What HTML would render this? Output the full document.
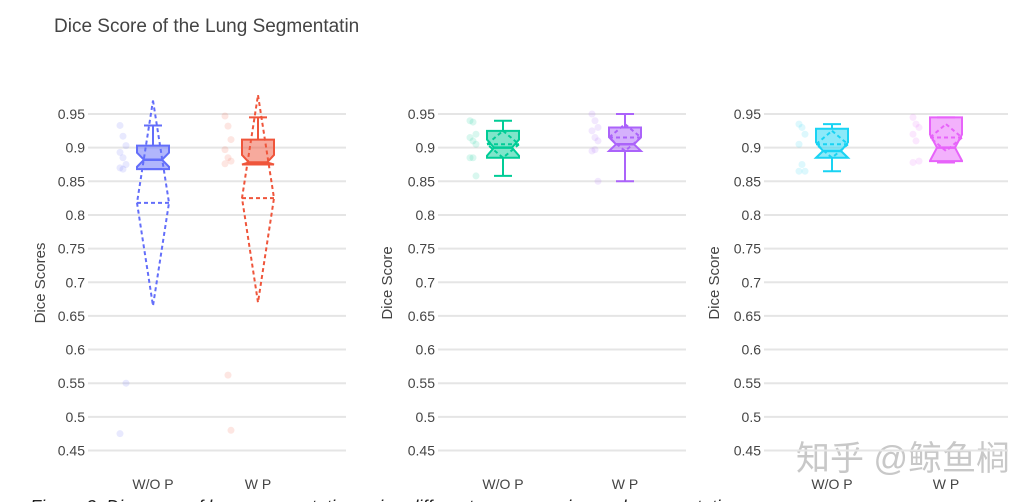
<!DOCTYPE html>
<html><head><meta charset="utf-8">
<style>
html,body{margin:0;padding:0;background:#fff;width:1030px;height:502px;overflow:hidden}
svg{display:block}
text{font-family:"Liberation Sans","Noto Sans CJK SC",sans-serif}
</style></head>
<body>
<svg id="c" width="1030" height="502">
<text x="54" y="32" font-size="19" fill="#444">Dice Score of the Lung Segmentatin</text>
<text x="1010" y="470" text-anchor="end" font-size="34" fill="#c8c8c8" font-family="'Noto Sans CJK SC',sans-serif">知乎 @鲸鱼榈</text>
<text x="30" y="513" font-size="18" font-style="italic" fill="#222" font-family="'Liberation Serif',serif">Figure 3: Diagrams of lung segmentation using different preprocessing and augmentation</text>
</svg>
<script>
const yTicks=[0.95,0.9,0.85,0.8,0.75,0.7,0.65,0.6,0.55,0.5,0.45];
const yTickLabels=["0.95","0.9","0.85","0.8","0.75","0.7","0.65","0.6","0.55","0.5","0.45"];
const categories=["W/O P","W P"];
const axisTitles=["Dice Scores","Dice Score","Dice Score"];
// per series: [lowerWhisker, q1, median, q3, upperWhisker]
const boxStats=[[0.868,0.868,0.882,0.903,0.933],[0.875,0.875,0.878,0.912,0.945],
 [0.858,0.885,0.9,0.925,0.94],[0.85,0.895,0.905,0.93,0.95],
 [0.865,0.885,0.895,0.928,0.935],[0.878,0.88,0.9,0.945,0.945]];
// [mean, mean+sd, mean-sd]
const meanSd=[[0.818,0.97,0.665],[0.825,0.978,0.67],[0.905,0.925,0.885],[0.915,0.935,0.895],[0.905,0.925,0.885],[0.915,0.935,0.895]];
const points0=[0.933,0.917,0.903,0.893,0.885,0.875,0.87,0.868,0.55,0.475];
const points1=[0.947,0.932,0.912,0.897,0.885,0.88,0.876,0.562,0.48];
const points2=[0.94,0.938,0.92,0.915,0.91,0.905,0.885,0.885,0.858];
const points3=[0.95,0.94,0.93,0.925,0.915,0.91,0.895,0.897,0.85];
const points4=[0.935,0.93,0.92,0.905,0.875,0.865,0.865];
const points5=[0.945,0.935,0.93,0.92,0.91,0.88,0.878];
const allPoints=[points0,points1,points2,points3,points4,points5];
const colors=["#636efa","#ef553b","#00cc96","#ab63fa","#19d3f3","#e763fa"];
const panels=[{x0:88,x1:346,cx:[153,258],title:40},{x0:438,x1:686,cx:[503,625],title:387},{x0:764,x1:1008,cx:[832,946],title:714}];
const svg=document.getElementById('c');
const NS="http://www.w3.org/2000/svg";
function y(v){return 114+(0.95-v)*673;}
function mk(t,a,p){const e=document.createElementNS(NS,t);for(const k in a)e.setAttribute(k,a[k]);(p||svg).appendChild(e);return e;}
panels.forEach((P,pi)=>{
  const g=mk('g',{});
  
  
  yTicks.forEach((t,i)=>{
    const l=mk('line',{x1:P.x0,x2:P.x1,y1:y(t),y2:y(t),stroke:'#e5e5e5','stroke-width':2},g);
    
    
    const tx=mk('text',{x:P.x0-3,y:y(t)+5,'text-anchor':'end','font-size':14,fill:'#444'},g);
    tx.textContent=yTickLabels[i];
    
    
  });
  const at=mk('text',{x:0,y:0,transform:`translate(${P.title+5},${283}) rotate(-90)`,'text-anchor':'middle','font-size':15,fill:'#444'},g);
  at.textContent=axisTitles[pi];
  
  
  categories.forEach((c,ci)=>{
    const cx=P.cx[ci];
    const tk=mk('text',{x:cx,y:489,'text-anchor':'middle','font-size':14,fill:'#444'},g);
    tk.textContent=c;
    
    
    const si=pi*2+ci, col=colors[si], s=boxStats[si], m=meanSd[si];
    const bg=mk('g',{},g);
    
    
    allPoints[si].forEach((v,k)=>{
      const pt=mk('circle',{cx:cx-33+(k%3)*3,cy:y(v),r:3.5,fill:col,'fill-opacity':0.15},bg);
      
      
    });
    const w=16,nw=9,n=(s[3]-s[1])*0.3;
    const top=y(s[3]),bot=y(s[1]),med=y(s[2]),nt=y(Math.min(s[3],s[2]+n)),nb=y(Math.max(s[1],s[2]-n));
    const box=mk('path',{d:`M${cx-w},${top}H${cx+w}V${nt}L${cx+nw},${med}L${cx+w},${nb}V${bot}H${cx-w}V${nb}L${cx-nw},${med}L${cx-w},${nt}Z`,fill:col,'fill-opacity':0.5,stroke:col,'stroke-width':2},bg);
    
    
    mk('line',{x1:cx-nw,x2:cx+nw,y1:med,y2:med,stroke:col,'stroke-width':2.5},bg);
    mk('line',{x1:cx,x2:cx,y1:top,y2:y(s[4]),stroke:col,'stroke-width':2},bg);
    mk('line',{x1:cx,x2:cx,y1:bot,y2:y(s[0]),stroke:col,'stroke-width':2},bg);
    mk('line',{x1:cx-9,x2:cx+9,y1:y(s[4]),y2:y(s[4]),stroke:col,'stroke-width':2},bg);
    mk('line',{x1:cx-9,x2:cx+9,y1:y(s[0]),y2:y(s[0]),stroke:col,'stroke-width':2},bg);
    const mn=y(m[0]);
    const d=mk('path',{d:`M${cx},${y(m[1])}L${cx+w},${mn}L${cx},${y(m[2])}L${cx-w},${mn}Z M${cx-w},${mn}H${cx+w}`,fill:'none',stroke:col,'stroke-width':2,'stroke-dasharray':'4,3'},bg);
    
    
  });
});
</script>
</body></html>
